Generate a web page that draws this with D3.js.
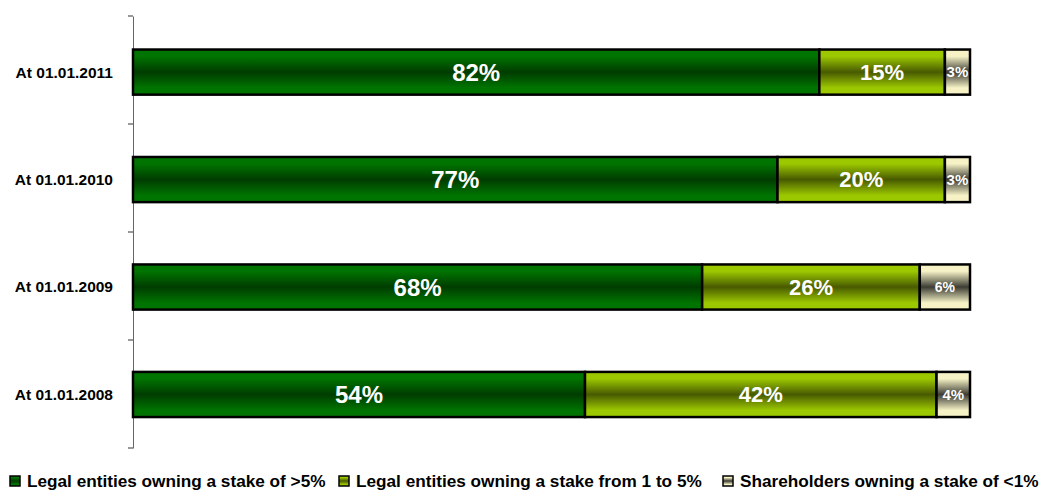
<!DOCTYPE html>
<html><head><meta charset="utf-8">
<script src="https://cdn.jsdelivr.net/npm/d3@7"></script>
<style>body{margin:0;background:#fff;} svg{display:block;font-family:"Liberation Sans",Arial,sans-serif;}</style>
</head><body>
<script>
const categories = ["At 01.01.2011","At 01.01.2010","At 01.01.2009","At 01.01.2008"];
const seriesNames = ["Legal entities owning a stake of >5%","Legal entities owning a stake from 1 to 5%","Shareholders owning a stake of <1%"];
const over5 = [82,77,68,54];
const from1to5 = [15,20,26,42];
const under1 = [3,3,6,4];
const seriesValues = [over5, from1to5, under1];

const W=1045,H=492;
const svg=d3.select("body").append("svg").attr("width",W).attr("height",H);
const defs=svg.append("defs");
const grads=[
 {edge:"#007400",mid:"#003c00"},
 {edge:"#9cc800",mid:"#485a00"},
 {edge:"#f6f2c6",mid:"#3c3c34"}
];
grads.forEach((g,i)=>{
  const lg=defs.append("linearGradient").attr("id","g"+i).attr("x1",0).attr("y1",0).attr("x2",0).attr("y2",1);
  lg.append("stop").attr("offset","0%").attr("stop-color",g.edge);
  lg.append("stop").attr("offset","15%").attr("stop-color",g.edge);
  lg.append("stop").attr("offset","50%").attr("stop-color",g.mid);
  lg.append("stop").attr("offset","85%").attr("stop-color",g.edge);
  lg.append("stop").attr("offset","100%").attr("stop-color",g.edge);
});

const x=d3.scaleLinear().domain([0,100]).range([133,970]);
const y=d3.scaleBand().domain(categories).range([16,448]).paddingInner(0.58).paddingOuter(0.3).align(0.52);

// axis
const axis=d3.axisLeft(y).tickSize(0).tickFormat("").tickSizeOuter(0);
const ag=svg.append("g").attr("transform","translate(133,0)").call(axis);
ag.select(".domain").attr("stroke","#666");
// category boundary ticks
const bounds=d3.range(0,categories.length+1).map(i=>16+i*(432/categories.length));
svg.selectAll(".tk").data(bounds).enter().append("line")
  .attr("x1",128).attr("x2",133).attr("y1",d=>d).attr("y2",d=>d).attr("stroke","#333");

// category labels
svg.selectAll(".cl").data(categories).enter().append("text")
  .attr("x",113).attr("y",d=>y(d)+y.bandwidth()/2).attr("dy","0.35em")
  .attr("text-anchor","end").attr("font-size","15.5px").attr("font-weight","bold").attr("fill","#000")
  .text(d=>d);

const fontSizes=[24,22,15];
categories.forEach((c,ci)=>{
  let acc=0;
  seriesValues.forEach((s,si)=>{
    const v=s[ci];
    const x0=x(acc), x1=x(acc+v);
    svg.append("rect").attr("x",x0).attr("y",y(c)).attr("width",x1-x0).attr("height",y.bandwidth())
      .attr("fill","url(#g"+si+")").attr("stroke","#000").attr("stroke-width",2.5);
    svg.append("text").attr("x",(x0+x1)/2).attr("y",y(c)+y.bandwidth()/2).attr("dy","0.36em")
      .attr("text-anchor","middle").attr("font-weight","bold").attr("font-size",(si==2&&v>4?14:fontSizes[si])+"px")
      .attr("fill","#fff").text(v+"%");
    acc+=v;
  });
});

// legend
const legX=[9,338,722];
seriesNames.forEach((n,i)=>{
  svg.append("rect").attr("x",legX[i]+1).attr("y",476).attr("width",10).attr("height",10)
    .attr("fill","url(#g"+i+")").attr("stroke","#000").attr("stroke-width",1.5);
  svg.append("text").attr("x",legX[i]+18).attr("y",481).attr("dy","0.35em")
    .attr("font-size","17.2px").attr("font-weight","bold").attr("fill","#000").text(n);
});
</script>
</body></html>
